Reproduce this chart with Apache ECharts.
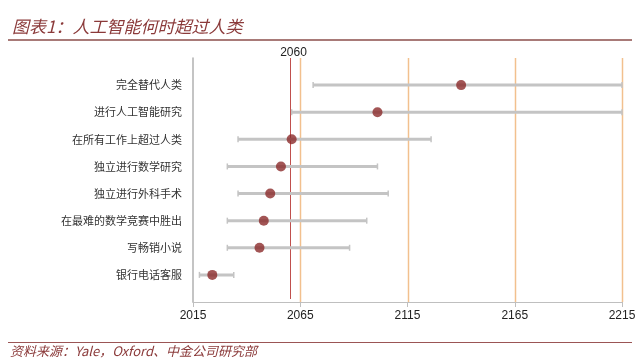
<!DOCTYPE html>
<html><head><meta charset="utf-8">
<script src="https://cdn.jsdelivr.net/npm/echarts@6/dist/echarts.min.js"></script>
<style>html,body{margin:0;padding:0;background:#fff}#c{width:640px;height:363px}</style>
</head><body><div id="c"></div>
<script>
var categories = ['完全替代人类','进行人工智能研究','在所有工作上超过人类','独立进行数学研究','独立进行外科手术','在最难的数学竞赛中胜出','写畅销小说','银行电话客服'];
var lowYears = [2071, 2061, 2036, 2031, 2036, 2031, 2031, 2018];
var midYears = [2140, 2101, 2061, 2056, 2051, 2048, 2046, 2024];
var highYears = [2215, 2215, 2126, 2101, 2106, 2096, 2088, 2034];
var xTicks = [2015, 2065, 2115, 2165, 2215];
var refLines = [2065, 2115, 2165, 2215];
var markYear = 2060;

var barData = categories.map(function(c,i){return [lowYears[i], highYears[i], i+1];});
var dotData = categories.map(function(c,i){return [midYears[i], i+1];});
var vlineData = refLines.map(function(v){return [v, 0];}).concat([[markYear, 1]]);

var chart = echarts.init(document.getElementById('c'));
chart.setOption({
  animation:false,
  textStyle:{fontFamily:'"Noto Sans CJK SC", sans-serif'},
  grid:{left:193,right:18,top:58,bottom:61,containLabel:false},
  xAxis:{type:'value',min:2015,max:2215,
    axisLine:{show:true,onZero:false,lineStyle:{color:'#bfbfbf',width:1}},
    axisTick:{show:true,customValues:xTicks,length:5,lineStyle:{color:'#bfbfbf'}},
    axisLabel:{customValues:xTicks,color:'#222',fontSize:12,fontFamily:'"Liberation Sans", Arial, sans-serif',margin:8,
      formatter:function(v){return String(v);}},
    splitLine:{show:false}},
  yAxis:{type:'value',min:0,max:9,interval:1,inverse:true,
    axisLine:{show:true,onZero:false,lineStyle:{color:'#b0b0b0',width:1.5}},
    axisTick:{show:false},splitLine:{show:false},
    axisLabel:{margin:11,color:'#333',fontSize:11,fontFamily:'"Noto Sans CJK SC", sans-serif',
      formatter:function(v){return (v>=1&&v<=categories.length)?categories[v-1]:'';}}},
  graphic:[
    {type:'text',left:12,top:18,style:{text:'图表1：人工智能何时超过人类',fill:'#8b3a3a',font:'italic 17px "Noto Sans CJK SC", sans-serif'}},
    {type:'rect',shape:{x:8,y:39,width:624,height:2},style:{fill:'#a87a78'}},
    {type:'rect',shape:{x:8,y:342,width:624,height:1},style:{fill:'#9b5555'}},
    {type:'text',left:10,top:345,style:{text:'资料来源：Yale，Oxford、中金公司研究部',fill:'#8b3a3a',font:'italic 13px "Noto Sans CJK SC", sans-serif'}}
  ],
  series:[
    {type:'custom',data:vlineData,z:1,silent:true,
      renderItem:function(params,api){
        var isMark=api.value(1)===1;
        var top=api.coord([api.value(0),0]);
        var bot=api.coord([api.value(0),9]);
        var x=Math.round(top[0])+0.5;
        var children=[{type:'line',shape:{x1:x,y1:top[1],x2:x,y2:bot[1]-(isMark?3:0)},
          style:{stroke:isMark?'#c0504d':'#f2c08e',lineWidth:isMark?1:1.5}}];
        if(isMark){children.push({type:'text',x:x+3,y:top[1]+1,
          style:{text:String(api.value(0)),fill:'#222',align:'center',verticalAlign:'bottom',
            font:'12px "Liberation Sans", Arial, sans-serif'}});}
        return {type:'group',children:children};
      }},
    {type:'custom',data:barData,z:3,
      renderItem:function(params,api){
        var a=api.coord([api.value(0),api.value(2)]);
        var b=api.coord([api.value(1),api.value(2)]);
        var st={stroke:'#c4c4c4',lineWidth:3};
        var cs={stroke:'#c4c4c4',lineWidth:1.5};
        return {type:'group',children:[
          {type:'line',shape:{x1:a[0],y1:a[1],x2:b[0],y2:b[1]},style:st},
          {type:'line',shape:{x1:a[0],y1:a[1]-3,x2:a[0],y2:a[1]+3},style:cs},
          {type:'line',shape:{x1:b[0],y1:b[1]-3,x2:b[0],y2:b[1]+3},style:cs}
        ]};
      }},
    {type:'scatter',data:dotData,symbol:'circle',symbolSize:10,z:4,itemStyle:{color:'#8b2b2b'}}
  ]
});
</script></body></html>
